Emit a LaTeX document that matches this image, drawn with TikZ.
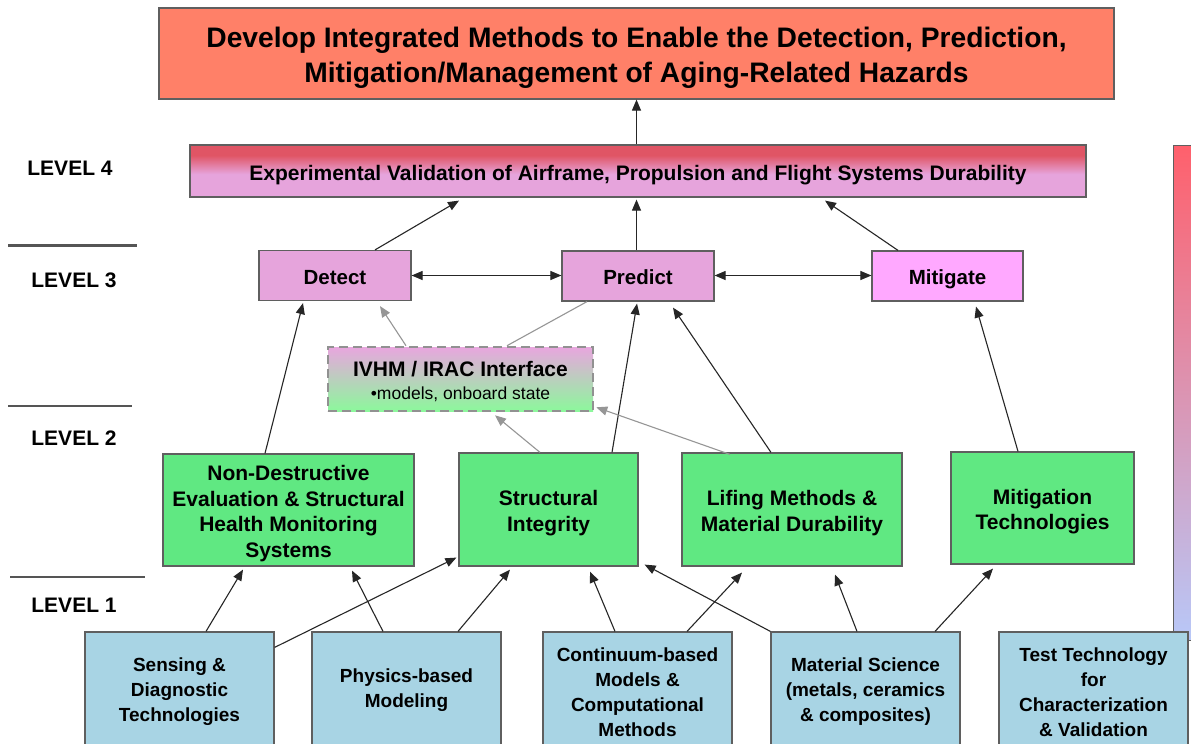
\documentclass[tikz,border=0pt]{standalone}
\usepackage{fontspec}
\setmainfont{Liberation Sans}
\usetikzlibrary{arrows.meta}

\definecolor{goalfill}{RGB}{255,128,104}
\definecolor{valtop}{RGB}{224,85,101}
\definecolor{pinkfill}{RGB}{230,164,220}
\definecolor{mitfill}{RGB}{255,168,255}
\definecolor{greenfill}{RGB}{96,232,130}
\definecolor{bluefill}{RGB}{168,212,228}
\definecolor{boxline}{RGB}{95,95,95}
\definecolor{softarrow}{RGB}{150,150,150}
\definecolor{ivhmtop}{RGB}{232,166,222}
\definecolor{ivhmbot}{RGB}{140,248,156}
\definecolor{bartop}{RGB}{255,96,108}
\definecolor{barbot}{RGB}{184,200,248}
\definecolor{sepgray}{RGB}{85,85,85}
\definecolor{dashgray}{RGB}{145,145,145}

% level-4 band: red along the top edge, fading into pink
\pgfdeclareverticalshading{valshade}{100bp}{color(0bp)=(pinkfill); color(47bp)=(pinkfill); color(65bp)=(valtop); color(100bp)=(valtop)}

% centred block of lines, set a little below the optical middle of its box
\newcommand\btxt[2][-4pt]{\raisebox{#1}[\height][\depth]{\begin{tabular}{@{}c@{}}#2\end{tabular}}}

\begin{document}
\begin{tikzpicture}[x=1pt,y=-1pt,
  box/.style={draw=boxline, line width=1.2pt, inner sep=0pt},
  goalbox/.style={box, fill=goalfill, minimum width=955pt, minimum height=91pt,
    font=\bfseries\fontsize{28.2}{35}\selectfont},
  valbox/.style={box, shading=valshade, minimum width=896pt, minimum height=52pt,
    font=\bfseries\fontsize{21}{24}\selectfont},
  lvthree/.style={box, fill=pinkfill, minimum width=152pt, minimum height=50pt,
    font=\bfseries\fontsize{20.5}{24}\selectfont},
  lvtwo/.style={box, fill=greenfill, minimum height=112pt,
    font=\bfseries\fontsize{21}{25.5}\selectfont},
  lvone/.style={box, fill=bluefill, minimum width=189pt, minimum height=116pt,
    font=\bfseries\fontsize{19}{25}\selectfont},
  ivhmbox/.style={draw=dashgray, line width=2.6pt, dash pattern=on 9pt off 5pt,
    top color=ivhmtop, bottom color=ivhmbot, minimum width=265pt, minimum height=64pt,
    inner sep=0pt, font=\fontsize{21}{23}\selectfont},
  lvl/.style={font=\bfseries\fontsize{21}{24}\selectfont, inner sep=0pt},
  sepline/.style={draw=sepgray, line width=2.4pt},
  arr/.style={-{Triangle[length=11pt,width=9pt]}, line width=1.1pt, draw=black!85},
  dblarr/.style={{Triangle[length=11pt,width=9pt]}-{Triangle[length=11pt,width=9pt]}, line width=1.1pt, draw=black!85},
  softarr/.style={-{Triangle[length=11pt,width=9pt]}, line width=1.1pt, draw=softarrow},
  softline/.style={line width=1.1pt, draw=softarrow}
]
\clip (0,0) rectangle (1191,744);
\fill[white] (0,0) rectangle (1191,744);

% colour scale on the right edge
\draw[draw=boxline, line width=1pt, top color=bartop, bottom color=barbot]
  (1173,145) rectangle (1200,640);

% level labels and separators
\node[lvl] (l4) at (70,168) {LEVEL 4};
\node[lvl] (l3) at (74,280) {LEVEL 3};
\node[lvl] (l2) at (74,438) {LEVEL 2};
\node[lvl] (l1) at (74,605) {LEVEL 1};
\draw[sepline] (8,245.5) -- (137,245.5);
\draw[sepline] (8,405.7) -- (132,405.7);
\draw[sepline] (10,577) -- (145,577);

% goal and level 4
\node[goalbox] (goal) at (636.5,53.5) {\btxt{Develop Integrated Methods to Enable the Detection, Prediction,\\Mitigation/Management of Aging-Related Hazards}};
\node[valbox] (val) at (638,171) {\btxt[-5pt]{Experimental Validation of Airframe, Propulsion and Flight Systems Durability}};

% level 3
\node[lvthree] (det) at (335,275.5) {\btxt{Detect}};
\node[lvthree] (pre) at (638,276) {\btxt{Predict}};
\node[lvthree, fill=mitfill, minimum width=151pt] (mit) at (947.5,276) {\btxt{Mitigate}};

% interface box
\node[ivhmbox] (ivhm) at (460.5,379) {\btxt{{\bfseries IVHM / IRAC Interface}\\{\fontsize{17.5}{23}\selectfont •models, onboard state}}};

% level 2
\node[lvtwo, minimum width=251pt] (nde) at (288.5,510) {\btxt{Non-Destructive\\Evaluation \& Structural\\Health Monitoring\\Systems}};
\node[lvtwo, minimum width=179pt, minimum height=113pt] (si) at (548.5,509.5) {\btxt{Structural\\Integrity}};
\node[lvtwo, minimum width=220pt, minimum height=113pt] (lif) at (792,509.5) {\btxt{Lifing Methods \&\\Material Durability}};
\node[lvtwo, minimum width=183pt] (mtech) at (1042.5,508) {\btxt{Mitigation\\Technologies}};

% level 1
\node[lvone] (sen) at (179.5,690) {\btxt[-1.5pt]{Sensing \&\\Diagnostic\\Technologies}};
\node[lvone] (phy) at (406.5,690) {\btxt[0pt]{Physics-based\\Modeling}};
\node[lvone] (con) at (637.5,690) {\btxt{Continuum-based\\Models \&\\Computational\\Methods}};
\node[lvone] (mat) at (865.5,690) {\btxt[-1pt]{Material Science\\(metals, ceramics\\\& composites)}};
\node[lvone] (tt) at (1093.5,690) {\btxt{Test Technology\\for\\Characterization\\\& Validation}};

% upper connectors
\draw[arr] (goal.south |- val.north) -- (goal.south);
\draw[arr] ([xshift=40]det.north) -- ([xshift=-179,yshift=-3]val.south);
\draw[arr] ([xshift=-1.5]pre.north) -- ([xshift=-1.5,yshift=-2]pre.north |- val.south);
\draw[arr] ([xshift=-49.5]mit.north) -- ([xshift=187,yshift=-3]val.south);
\draw[dblarr] (det.east) -- (det.east -| pre.west);
\draw[dblarr] ([yshift=0.5]pre.east) -- ([yshift=0.5]pre.east -| mit.west);

% level 2 to level 3
\draw[arr] ([xshift=-23.5]nde.north) -- ([xshift=-32,yshift=-2]det.south);
\draw[arr] ([xshift=63.5]si.north) -- ([xshift=-1,yshift=-2]pre.south);
\draw[arr] ([xshift=-21]lif.north) -- ([xshift=35,yshift=-6]pre.south);
\draw[arr] ([xshift=-24.5]mtech.north) -- ([xshift=28.5,yshift=-5]mit.south);

% links through the interface
\draw[softarr] ([xshift=-54.5]ivhm.north) -- ([xshift=45,yshift=-5]det.south);
\draw[softline] ([xshift=46.5]ivhm.north) -- ([xshift=-51]pre.south);
\draw[softarr] ([xshift=-8.5]si.north) -- ([xshift=34.5,yshift=-3]ivhm.south);
\draw[softarr] ([xshift=-62,yshift=-2]lif.north) -- ([xshift=2,yshift=5]ivhm.south east);

% level 1 to level 2
\draw[arr] ([xshift=26.5]sen.north) -- ([xshift=-45.5,yshift=-3]nde.south);
\draw[arr] ([yshift=-16]sen.north east) -- ([xshift=-2,yshift=9]si.south west);
\draw[arr] ([xshift=-23.5]phy.north) -- ([xshift=63.5,yshift=-4]nde.south);
\draw[arr] ([xshift=51.5]phy.north) -- ([xshift=-38.5,yshift=-3]si.south);
\draw[arr] ([xshift=-22.5]con.north) -- ([xshift=41.5,yshift=-5]si.south);
\draw[arr] ([xshift=49.5]con.north) -- ([xshift=-50,yshift=-6]lif.south);
\draw[arr] (mat.north west) -- ([xshift=6,yshift=2]si.south east);
\draw[arr] ([xshift=-8.5]mat.north) -- ([xshift=43,yshift=-8]lif.south);
\draw[arr] ([xshift=69.5]mat.north) -- ([xshift=-49.5,yshift=-4]mtech.south);
\end{tikzpicture}
\end{document}
